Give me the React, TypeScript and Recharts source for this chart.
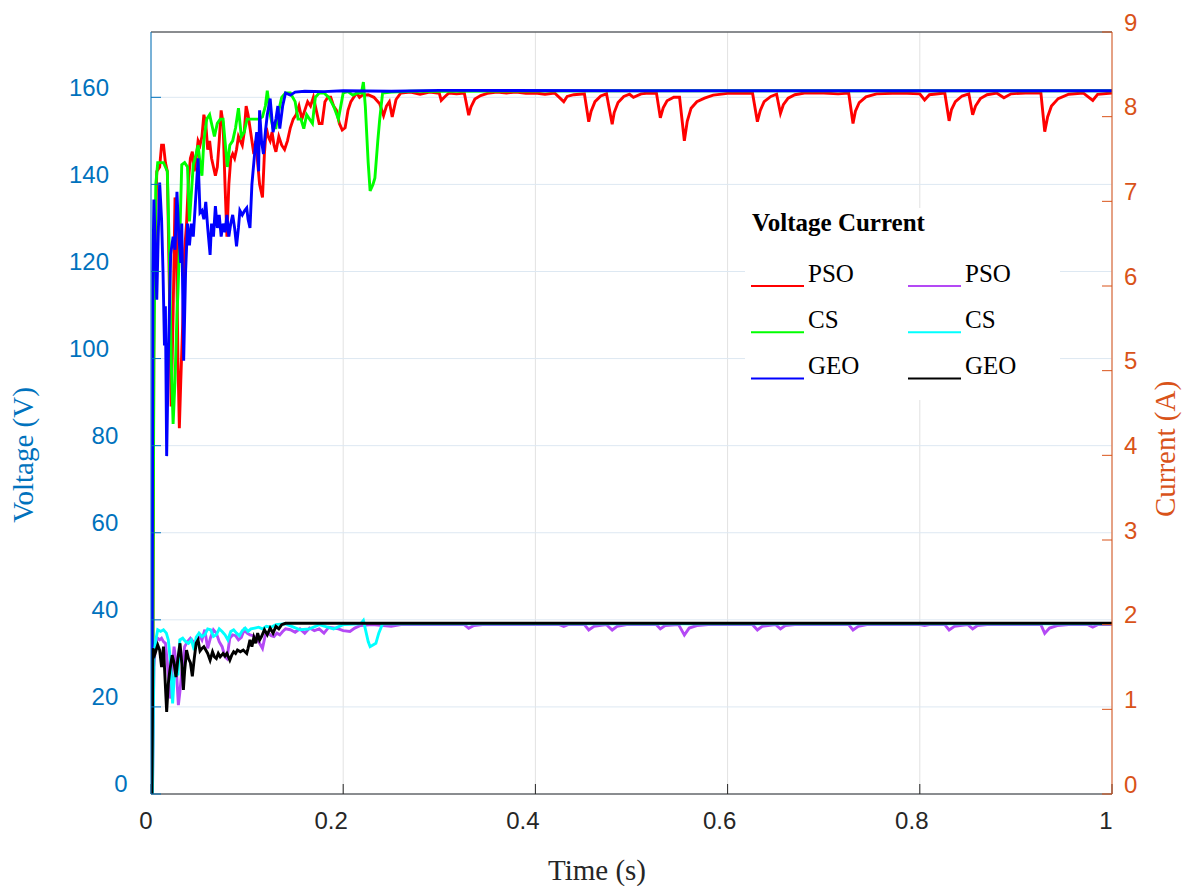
import { LineChart, Line, XAxis, YAxis, CartesianGrid, Legend } from 'recharts';

const SANS = '"Liberation Sans", Arial, Helvetica, sans-serif';
const SERIF = '"Liberation Serif", "Times New Roman", serif';
const VOLT_AXIS = '#0072BD';
const AMP_AXIS = '#D95319';

const timeTicks = [0, 0.2, 0.4, 0.6, 0.8, 1];
const voltTicks = [0, 20, 40, 60, 80, 100, 120, 140, 160];
const ampTicks = [0, 1, 2, 3, 4, 5, 6, 7, 8, 9];

// [time (s), voltage (V)]
const psoVoltage: [number, number][] = [
  [0, 0], [0.0015, 0], [0.003, 110], [0.006, 143], [0.009, 144], [0.011, 149], [0.013, 149],
  [0.015, 145], [0.017, 143], [0.019, 118], [0.021, 89], [0.023, 110], [0.025, 137], [0.026, 136],
  [0.028, 100], [0.0295, 84], [0.031, 95], [0.033, 108], [0.035, 125], [0.037, 131], [0.039, 141],
  [0.041, 146], [0.043, 147.5], [0.045, 143], [0.047, 146], [0.049, 150], [0.051, 149], [0.053, 151],
  [0.055, 156], [0.057, 154], [0.059, 148], [0.061, 150], [0.063, 146], [0.065, 144], [0.067, 142],
  [0.069, 144], [0.071, 150], [0.073, 157], [0.075, 154], [0.077, 140], [0.079, 128], [0.081, 140],
  [0.083, 146], [0.085, 147], [0.087, 146], [0.089, 148], [0.091, 151], [0.093, 150], [0.095, 149],
  [0.097, 152], [0.099, 158], [0.101, 156], [0.103, 153], [0.105, 150], [0.107, 147], [0.109, 150],
  [0.111, 145], [0.113, 140], [0.116, 137], [0.118, 147], [0.12, 153], [0.122, 151], [0.124, 150],
  [0.126, 152], [0.128, 149], [0.13, 147.5], [0.133, 151], [0.136, 149], [0.139, 148], [0.142, 150],
  [0.145, 153], [0.148, 155], [0.151, 156], [0.154, 158], [0.157, 155], [0.16, 157], [0.163, 159],
  [0.166, 158], [0.169, 160], [0.172, 157], [0.175, 154], [0.178, 154], [0.181, 159], [0.184, 160],
  [0.187, 160], [0.19, 158], [0.193, 157], [0.196, 154], [0.199, 152.5], [0.202, 153], [0.205, 157],
  [0.208, 159], [0.211, 160], [0.214, 161], [0.217, 160], [0.22, 160.5], [0.226, 160.6], [0.232, 160],
  [0.238, 158.5], [0.242, 155.8], [0.245, 158], [0.248, 159], [0.251, 155.5], [0.255, 159.5],
  [0.26, 161], [0.27, 161.2], [0.28, 160.7], [0.29, 161.2], [0.3, 160.9], [0.302, 159.3], [0.306, 160.2],
  [0.31, 161], [0.318, 160.8], [0.326, 161], [0.3306, 155.9], [0.333, 157.8], [0.337, 159.6],
  [0.343, 160.4], [0.35, 160.9], [0.36, 161.2], [0.37, 161], [0.38, 161.2], [0.39, 160.9], [0.4, 161],
  [0.41, 160.7], [0.42, 161], [0.4295, 159], [0.433, 160.2], [0.44, 160.6], [0.451, 160.8],
  [0.4555, 154.4], [0.458, 156.8], [0.462, 159], [0.468, 160.3], [0.474, 160.8], [0.4799, 153.8],
  [0.482, 156.5], [0.486, 158.8], [0.492, 160.2], [0.498, 160.7], [0.502, 160], [0.51, 160.8],
  [0.518, 161], [0.526, 160.9], [0.53, 155.3], [0.533, 157.6], [0.537, 159.2], [0.544, 160],
  [0.55, 160], [0.555, 150], [0.558, 154.5], [0.562, 157.5], [0.568, 159], [0.576, 159.8],
  [0.585, 160.5], [0.6, 160.9], [0.61, 161], [0.626, 160.9], [0.631, 154.4], [0.634, 157],
  [0.638, 159], [0.645, 160.2], [0.651, 160.7], [0.655, 156.3], [0.658, 158.3], [0.663, 159.8],
  [0.67, 160.6], [0.68, 161], [0.7, 161], [0.715, 160.8], [0.726, 161], [0.7305, 154],
  [0.733, 156.8], [0.737, 158.8], [0.744, 160.1], [0.755, 160.8], [0.78, 161], [0.8, 160.8],
  [0.805, 159.4], [0.81, 160.6], [0.826, 161], [0.8305, 154.6], [0.833, 157.2], [0.837, 159],
  [0.844, 160.3], [0.851, 160.8], [0.855, 156], [0.858, 158], [0.863, 159.7], [0.87, 160.6],
  [0.88, 161], [0.8875, 159.9], [0.895, 160.8], [0.91, 161], [0.926, 161], [0.93, 152.1],
  [0.933, 155.5], [0.937, 158], [0.944, 159.7], [0.955, 160.7], [0.97, 161], [0.98, 159.3],
  [0.985, 160.7], [1, 161],
];

const csVoltage: [number, number][] = [
  [0, 0], [0.0015, 0], [0.003, 100], [0.005, 140], [0.007, 145], [0.01, 145], [0.013, 145],
  [0.015, 144], [0.017, 143], [0.019, 125], [0.021, 100], [0.023, 85], [0.025, 95], [0.027, 110],
  [0.028, 115], [0.03, 128], [0.032, 144.5], [0.035, 145], [0.038, 144], [0.04, 131.5], [0.042, 138],
  [0.044, 144.5], [0.047, 147], [0.049, 149], [0.051, 145], [0.053, 142], [0.055, 150], [0.058, 155],
  [0.061, 156], [0.063, 154], [0.066, 151], [0.069, 154], [0.072, 155], [0.075, 155], [0.077, 150],
  [0.0795, 144], [0.082, 149], [0.085, 150], [0.088, 153], [0.091, 157.5], [0.094, 151], [0.097, 152],
  [0.1, 155], [0.104, 155], [0.108, 155], [0.112, 155], [0.116, 155.5], [0.119, 158], [0.121, 161.5],
  [0.124, 156], [0.127, 153], [0.13, 153], [0.133, 157], [0.136, 160], [0.14, 161], [0.145, 161],
  [0.15, 159], [0.153, 155], [0.156, 155], [0.159, 152.8], [0.162, 156], [0.165, 155], [0.168, 154],
  [0.171, 160], [0.175, 161], [0.18, 161], [0.185, 160], [0.19, 158], [0.195, 155], [0.2, 161],
  [0.205, 161.3], [0.21, 160.5], [0.215, 161], [0.219, 161], [0.221, 163.5], [0.223, 158],
  [0.226, 145], [0.228, 138.5], [0.231, 140], [0.233, 141.5], [0.236, 150], [0.238, 155],
  [0.241, 161], [0.25, 161.2], [0.27, 161.4], [0.3, 161.4], [0.5, 161.5], [1, 161.5],
];

const geoVoltage: [number, number][] = [
  [0, 0], [0.001, 0], [0.002, 120], [0.003, 136.5], [0.0045, 125], [0.006, 113.5], [0.0075, 128],
  [0.009, 140.4], [0.011, 132], [0.0125, 120], [0.014, 103], [0.015, 112], [0.0163, 77.6],
  [0.018, 100], [0.0205, 124], [0.023, 128], [0.025, 125], [0.027, 138.3], [0.029, 128], [0.031, 122],
  [0.032, 131], [0.034, 99.5], [0.036, 120], [0.038, 131], [0.04, 126], [0.042, 131], [0.044, 128],
  [0.046, 135], [0.049, 146], [0.051, 133.5], [0.053, 134], [0.055, 132], [0.057, 136], [0.059, 130],
  [0.0615, 123.8], [0.063, 131], [0.065, 128], [0.067, 135], [0.069, 130], [0.071, 133], [0.073, 128],
  [0.075, 131], [0.077, 129], [0.079, 133], [0.081, 128], [0.083, 131], [0.085, 133], [0.087, 130],
  [0.089, 125.8], [0.091, 130], [0.0925, 134], [0.095, 133], [0.0975, 134], [0.0996, 134.6],
  [0.101, 132], [0.103, 130], [0.105, 140], [0.107, 145], [0.109, 150], [0.11, 152], [0.112, 143],
  [0.113, 157], [0.115, 150], [0.117, 147], [0.119, 152], [0.121, 156], [0.124, 159.7], [0.127, 152],
  [0.13, 155], [0.132, 158], [0.134, 152.8], [0.137, 158], [0.14, 161], [0.145, 160.5], [0.15, 161.2],
  [0.16, 161.4], [0.18, 161.3], [0.2, 161.5], [0.25, 161.4], [0.3, 161.6], [0.5, 161.5], [1, 161.5],
];

// [time (s), current (A)]
const psoCurrent: [number, number][] = [
  [0, 0], [0.0015, 0], [0.003, 1.5], [0.005, 1.8], [0.007, 1.84], [0.009, 1.82], [0.011, 1.84],
  [0.013, 1.8], [0.015, 1.78], [0.017, 1.55], [0.019, 1.2], [0.0205, 1.13], [0.022, 1.45],
  [0.024, 1.74], [0.026, 1.55], [0.0285, 1.05], [0.03, 1.2], [0.0325, 1.5], [0.035, 1.74],
  [0.038, 1.8], [0.041, 1.84], [0.044, 1.8], [0.047, 1.78], [0.05, 1.88], [0.053, 1.82],
  [0.056, 1.94], [0.059, 1.72], [0.062, 1.85], [0.065, 1.94], [0.068, 1.9], [0.071, 1.8],
  [0.074, 1.74], [0.077, 1.62], [0.079, 1.6], [0.082, 1.84], [0.085, 1.88], [0.088, 1.87],
  [0.091, 1.82], [0.094, 1.85], [0.097, 1.94], [0.1, 1.9], [0.103, 1.88], [0.106, 1.87],
  [0.109, 1.85], [0.112, 1.8], [0.116, 1.72], [0.119, 1.88], [0.122, 1.9], [0.125, 1.87],
  [0.128, 1.86], [0.131, 1.9], [0.134, 1.88], [0.137, 1.92], [0.14, 1.95], [0.145, 1.94],
  [0.15, 1.91], [0.155, 1.95], [0.16, 1.9], [0.165, 1.96], [0.17, 1.93], [0.175, 1.95], [0.18, 1.9],
  [0.185, 1.97], [0.19, 1.96], [0.195, 1.95], [0.2, 1.93], [0.207, 1.92], [0.212, 1.96],
  [0.218, 1.99], [0.23, 2.0], [0.25, 1.98], [0.26, 2.0], [0.3, 2.0], [0.326, 2.0], [0.3306, 1.957],
  [0.336, 1.99], [0.345, 2.0], [0.425, 2.0], [0.4295, 1.98], [0.434, 2.0], [0.451, 2.0],
  [0.4555, 1.937], [0.461, 1.98], [0.474, 2.0], [0.4799, 1.937], [0.485, 1.98], [0.495, 2.0],
  [0.526, 2.0], [0.53, 1.95], [0.535, 1.99], [0.549, 2.0], [0.555, 1.878], [0.56, 1.96],
  [0.568, 1.99], [0.58, 2.0], [0.626, 2.0], [0.631, 1.937], [0.636, 1.98], [0.65, 2.0],
  [0.655, 1.95], [0.66, 1.99], [0.67, 2.0], [0.726, 2.0], [0.7305, 1.937], [0.736, 1.98],
  [0.745, 2.0], [0.8, 2.0], [0.805, 1.99], [0.81, 2.0], [0.826, 2.0], [0.8305, 1.937],
  [0.836, 1.98], [0.85, 2.0], [0.855, 1.95], [0.86, 1.99], [0.87, 2.0], [0.926, 2.0], [0.93, 1.897],
  [0.935, 1.96], [0.943, 1.99], [0.955, 2.0], [0.975, 2.0], [0.98, 1.97], [0.985, 2.0], [1, 2.0],
];

const csCurrent: [number, number][] = [
  [0, 0], [0.0015, 0], [0.003, 1.6], [0.005, 1.82], [0.007, 1.94], [0.01, 1.92], [0.013, 1.94],
  [0.016, 1.9], [0.018, 1.82], [0.02, 1.6], [0.0225, 1.07], [0.024, 1.35], [0.026, 1.5],
  [0.028, 1.4], [0.03, 1.82], [0.033, 1.84], [0.036, 1.8], [0.039, 1.78], [0.042, 1.82],
  [0.045, 1.7], [0.047, 1.85], [0.05, 1.9], [0.053, 1.86], [0.056, 1.88], [0.059, 1.95],
  [0.062, 1.94], [0.065, 1.86], [0.068, 1.88], [0.071, 1.95], [0.074, 1.92], [0.077, 1.88],
  [0.08, 1.82], [0.083, 1.92], [0.086, 1.94], [0.089, 1.9], [0.092, 1.87], [0.095, 1.93],
  [0.098, 1.96], [0.101, 1.92], [0.104, 1.95], [0.108, 1.96], [0.112, 1.97], [0.116, 1.95],
  [0.12, 1.98], [0.125, 1.97], [0.13, 2.0], [0.14, 2.01], [0.155, 1.94], [0.165, 1.95],
  [0.175, 2.0], [0.19, 1.95], [0.2, 2.0], [0.218, 2.01], [0.221, 2.05], [0.223, 1.95],
  [0.226, 1.8], [0.228, 1.74], [0.231, 1.76], [0.234, 1.78], [0.237, 1.9], [0.241, 2.01],
  [0.3, 2.01], [1, 2.01],
];

const geoCurrent: [number, number][] = [
  [0, 0], [0.001, 0], [0.002, 1.72], [0.004, 1.65], [0.007, 1.76], [0.009, 1.7], [0.011, 1.5],
  [0.013, 1.74], [0.015, 1.27], [0.0163, 0.97], [0.018, 1.3], [0.0195, 1.45], [0.022, 1.64],
  [0.024, 1.55], [0.026, 1.38], [0.028, 1.6], [0.0302, 1.78], [0.032, 1.55], [0.0337, 1.23],
  [0.035, 1.45], [0.037, 1.7], [0.039, 1.6], [0.041, 1.55], [0.043, 1.39], [0.045, 1.6],
  [0.047, 1.78], [0.049, 1.82], [0.051, 1.69], [0.053, 1.72], [0.055, 1.74], [0.057, 1.7],
  [0.059, 1.66], [0.0615, 1.58], [0.064, 1.68], [0.066, 1.62], [0.068, 1.6], [0.07, 1.66],
  [0.072, 1.62], [0.075, 1.66], [0.077, 1.63], [0.079, 1.66], [0.082, 1.58], [0.084, 1.64],
  [0.086, 1.68], [0.088, 1.66], [0.09, 1.7], [0.093, 1.68], [0.096, 1.7], [0.0996, 1.66],
  [0.101, 1.72], [0.103, 1.82], [0.105, 1.74], [0.107, 1.85], [0.109, 1.78], [0.111, 1.9],
  [0.113, 1.82], [0.115, 1.86], [0.118, 1.94], [0.121, 1.88], [0.124, 1.96], [0.127, 1.9],
  [0.13, 1.98], [0.133, 1.95], [0.136, 2.0], [0.14, 2.016], [0.2, 2.016], [1, 2.016],
];

const voltageSeries = [
  { name: 'PSO', color: '#FF0000', points: psoVoltage },
  { name: 'CS', color: '#00FF00', points: csVoltage },
  { name: 'GEO', color: '#0000FF', points: geoVoltage },
];
const currentSeries = [
  { name: 'PSO', color: '#B449F5', points: psoCurrent },
  { name: 'CS', color: '#00FFFF', points: csCurrent },
  { name: 'GEO', color: '#000000', points: geoCurrent },
];

const toRows = (pts: [number, number][]) => pts.map(([t, v]) => ({ t, v }));

const xLabelShift: Record<string, number> = { '0': -5, '0.2': -12, '0.4': -12.5, '0.6': -8, '0.8': -8, '1': -6 };

const TimeTick = ({ x, y, payload }: any) => {
  const s = String(payload.value);
  return (
    <text x={x + (xLabelShift[s] ?? 0)} y={y} textAnchor="middle" fill="#262626" fontSize={24} fontFamily={SANS}>
      {s}
    </text>
  );
};

const VoltTick = ({ x, y, payload }: any) => {
  const s = String(payload.value);
  return (
    <text x={x + (3 - s.length) * 9.3} y={y - 1.6} textAnchor="end" fill={VOLT_AXIS} fontSize={24} fontFamily={SANS}>
      {s}
    </text>
  );
};

const AmpTick = ({ x, y, payload }: any) => (
  <text x={x} y={y - 1.5} textAnchor="start" fill={AMP_AXIS} fontSize={24} fontFamily={SANS}>
    {payload.value}
  </text>
);

const LegendBox = () => (
  <svg width={315} height={192} style={{ display: 'block', background: '#fff' }}>
    <text x={7} y={23} fontFamily={SERIF} fontWeight="bold" fontSize={25} fill="#000">
      Voltage Current
    </text>
    {[voltageSeries, currentSeries].map((group, col) =>
      group.map((s, row) => (
        <g key={`${col}-${row}`}>
          <line x1={6 + col * 157} x2={59 + col * 157} y1={78 + row * 46.3} y2={78 + row * 46.3} stroke={s.color} strokeWidth={2} />
          <text x={63 + col * 157} y={73.7 + row * 46.2} fontFamily={SERIF} fontSize={25} fill="#000">
            {s.name}
          </text>
        </g>
      ))
    )}
  </svg>
);

export default function App() {
  return (
    <div style={{ position: 'absolute', left: 0, top: 0, background: '#fff' }}>
      <LineChart width={1187} height={886} margin={{ top: 31, right: 0, bottom: 0, left: 0 }}>
        <CartesianGrid horizontal={false} stroke="#e2e2e2" strokeWidth={1} />
        <CartesianGrid vertical={false} stroke="#dde8f2" strokeWidth={1} />
        <XAxis
          xAxisId="top"
          orientation="top"
          type="number"
          domain={[0, 1]}
          ticks={timeTicks}
          height={1}
          tick={false}
          tickSize={-10}
          axisLine={{ stroke: '#262626' }}
          tickLine={{ stroke: '#262626' }}
          allowDataOverflow
        />
        <XAxis
          type="number"
          dataKey="t"
          domain={[0, 1]}
          ticks={timeTicks}
          height={92}
          tickSize={-10}
          tickMargin={45}
          axisLine={{ stroke: '#262626' }}
          tickLine={{ stroke: '#262626' }}
          tick={<TimeTick />}
          allowDataOverflow
          label={{
            content: () => (
              <text x={597} y={880} textAnchor="middle" fontFamily={SERIF} fontSize={29} fill="#262626">
                Time (s)
              </text>
            ),
          }}
        />
        <YAxis
          type="number"
          domain={[0, 175]}
          ticks={voltTicks}
          width={151}
          tickSize={-10}
          tickMargin={52}
          axisLine={{ stroke: VOLT_AXIS }}
          tickLine={{ stroke: VOLT_AXIS }}
          tick={<VoltTick />}
          allowDataOverflow
          label={{
            content: () => (
              <text transform="translate(33,455) rotate(-90)" textAnchor="middle" fontFamily={SERIF} fontSize={29} fill={VOLT_AXIS}>
                Voltage (V)
              </text>
            ),
          }}
        />
        <YAxis
          yAxisId="i"
          orientation="right"
          type="number"
          domain={[0, 9]}
          ticks={ampTicks}
          width={75}
          tickSize={-10}
          tickMargin={22}
          axisLine={{ stroke: AMP_AXIS }}
          tickLine={{ stroke: AMP_AXIS }}
          tick={<AmpTick />}
          allowDataOverflow
          label={{
            content: () => (
              <text transform="translate(1175,449) rotate(-90)" textAnchor="middle" fontFamily={SERIF} fontSize={29} fill={AMP_AXIS}>
                Current (A)
              </text>
            ),
          }}
        />
        <Legend
          layout="vertical"
          align="center"
          verticalAlign="middle"
          content={() => <LegendBox />}
          wrapperStyle={{ left: 745, top: 208, width: 315, height: 192 }}
        />
        {voltageSeries.map((s) => (
          <Line
            key={`v-${s.name}`}
            data={toRows(s.points)}
            dataKey="v"
            name={`${s.name} voltage`}
            type="linear"
            stroke={s.color}
            strokeWidth={2.9}
            dot={false}
            isAnimationActive={false}
          />
        ))}
        {currentSeries.map((s) => (
          <Line
            key={`i-${s.name}`}
            yAxisId="i"
            data={toRows(s.points)}
            dataKey="v"
            name={`${s.name} current`}
            type="linear"
            stroke={s.color}
            strokeWidth={2.9}
            dot={false}
            isAnimationActive={false}
          />
        ))}
      </LineChart>
    </div>
  );
}
